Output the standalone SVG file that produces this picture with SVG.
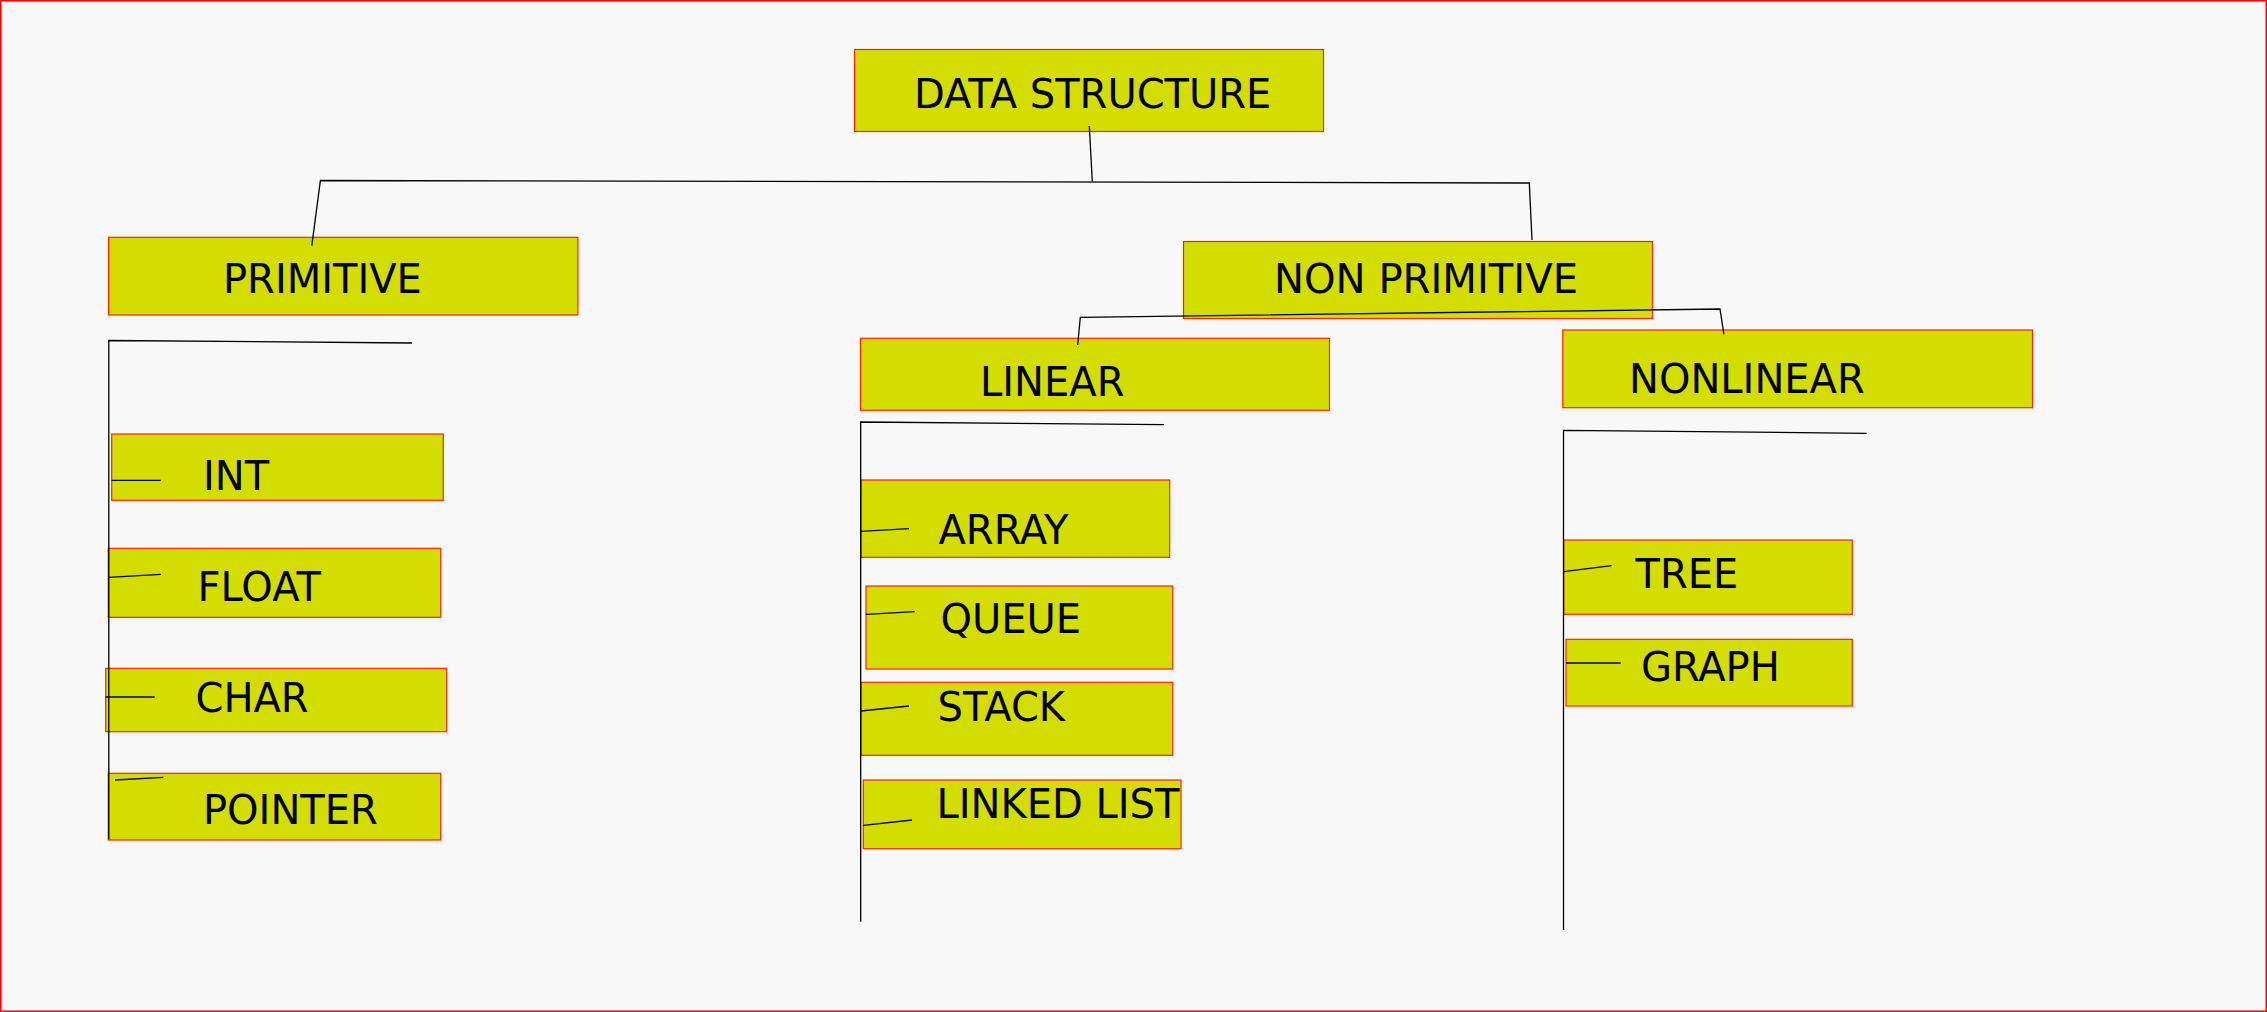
<svg xmlns="http://www.w3.org/2000/svg" width="2267" height="1012" viewBox="0 0 2267 1012">
<style>
.box{fill:#d4dd00;stroke:#ff2200;stroke-width:1.2}
.lbl{font-family:"DejaVu Sans",sans-serif;font-size:40px;fill:#000}
.ln{fill:none;stroke:#000;stroke-width:1.3}
</style>
<rect x="0.75" y="0.75" width="2265.5" height="1010.5" fill="#f8f8f8" stroke="#ff0000" stroke-width="1.5"/>
<g id="data-structure"><rect class="box" x="854.5" y="49.5" width="469" height="82"/><text class="lbl" x="914" y="107.7">DATA STRUCTURE</text></g>
<g id="primitive"><rect class="box" x="108.6" y="237.3" width="469.3" height="77.7"/><text class="lbl" x="223" y="293.3">PRIMITIVE</text></g>
<g id="non-primitive"><rect class="box" x="1183.5" y="241.5" width="469" height="77" /><text class="lbl" x="1274" y="292.7" textLength="304" lengthAdjust="spacingAndGlyphs">NON PRIMITIVE</text></g>
<g id="linear"><rect class="box" x="860.5" y="338.3" width="469" height="72"/><text class="lbl" x="980" y="395.5">LINEAR</text></g>
<g id="nonlinear"><rect class="box" x="1562.8" y="330" width="469.7" height="77.7"/><text class="lbl" x="1629" y="392.7">NONLINEAR</text></g>
<g id="int"><rect class="box" x="111.7" y="434" width="331.6" height="66.3"/><text class="lbl" x="203" y="490">INT</text></g>
<g id="float"><rect class="box" x="108.3" y="548.3" width="332.4" height="69"/><text class="lbl" x="197.5" y="601">FLOAT</text></g>
<g id="char"><rect class="box" x="105.7" y="668.3" width="341" height="63.4"/><text class="lbl" x="195.5" y="712.3">CHAR</text></g>
<g id="pointer"><rect class="box" x="108.3" y="773.3" width="332.4" height="66.7"/><text class="lbl" x="203" y="824">POINTER</text></g>
<g id="array"><rect class="box" x="861" y="480" width="308.7" height="77.3"/><text class="lbl" x="938.5" y="544">ARRAY</text></g>
<g id="queue"><rect class="box" x="866" y="586" width="306.7" height="83"/><text class="lbl" x="940.5" y="632.7">QUEUE</text></g>
<g id="stack"><rect class="box" x="861" y="682.3" width="311.7" height="73"/><text class="lbl" x="937.5" y="721">STACK</text></g>
<g id="linked-list"><rect class="box" x="863.3" y="780" width="317.7" height="68.7"/><text class="lbl" x="936.5" y="818.3">LINKED LIST</text></g>
<g id="tree"><rect class="box" x="1563.7" y="540" width="288.6" height="74.3"/><text class="lbl" x="1635.5" y="587.7">TREE</text></g>
<g id="graph"><rect class="box" x="1566" y="639.3" width="286.3" height="66.7"/><text class="lbl" x="1641" y="681">GRAPH</text></g>
<g id="connectors">
<polyline class="ln" points="1089.3,126 1092.3,181.5"/>
<polyline class="ln" points="311.8,245.7 320.4,180.5 1529.3,183 1532,240"/>
<polyline class="ln" points="1077.7,345 1080.3,317.3 1720,309 1723.9,334.3"/>
<polyline class="ln" points="412,343 108.8,340.5 108.8,839.3"/>
<polyline class="ln" points="1164,424.7 860.7,422 860.7,921.7"/>
<polyline class="ln" points="1866.7,433.3 1563.5,430.3 1563.5,930"/>
<line class="ln" x1="111.7" y1="480.3" x2="160.7" y2="480.3"/>
<line class="ln" x1="109" y1="577.3" x2="160.7" y2="574.3"/>
<line class="ln" x1="105.7" y1="697" x2="154.7" y2="697"/>
<line class="ln" x1="115" y1="780" x2="163.3" y2="777.3"/>
<line class="ln" x1="861" y1="531.3" x2="909" y2="528.7"/>
<line class="ln" x1="866" y1="614.3" x2="914.7" y2="611.7"/>
<line class="ln" x1="861" y1="711" x2="909" y2="706"/>
<line class="ln" x1="863.3" y1="825.3" x2="912" y2="820"/>
<line class="ln" x1="1563.7" y1="571.7" x2="1611.7" y2="565.7"/>
<line class="ln" x1="1566" y1="663" x2="1620.7" y2="663"/>
</g>
</svg>
